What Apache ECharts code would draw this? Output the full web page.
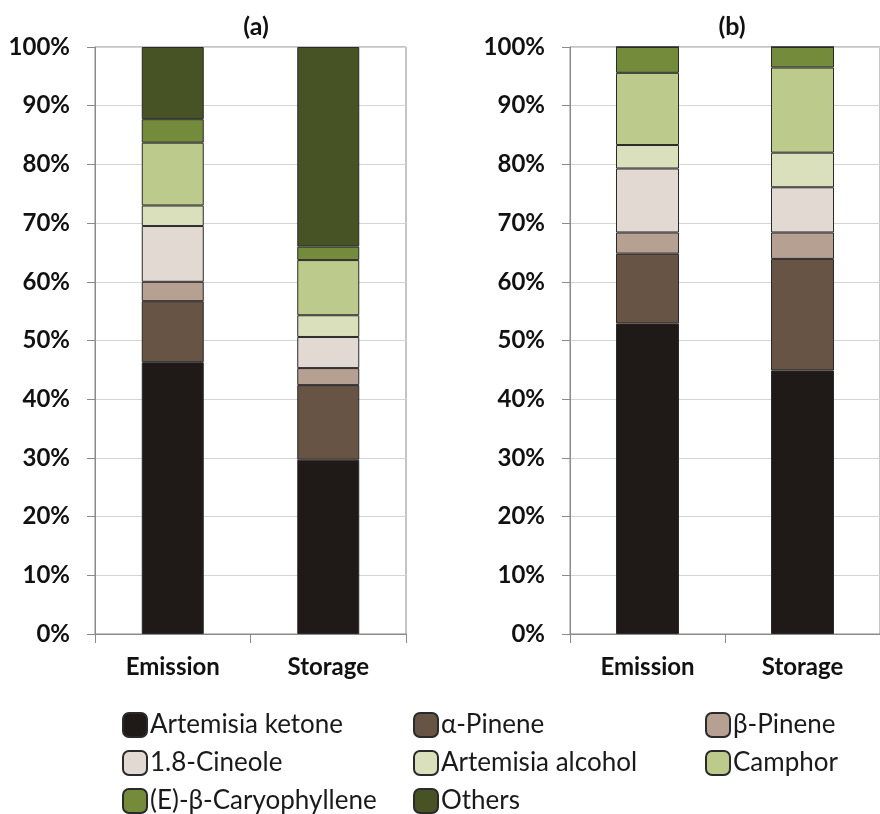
<!DOCTYPE html>
<html>
<head>
<meta charset="utf-8">
<script src="https://cdn.jsdelivr.net/npm/echarts@6/dist/echarts.min.js"></script>
<style>html,body{margin:0;padding:0;background:#fff}#c{width:880px;height:814px}</style>
</head>
<body>
<div id="c"></div>
<script>
const categories = ['Emission', 'Storage'];
const compounds = ['Artemisia ketone', 'α-Pinene', 'β-Pinene', '1.8-Cineole', 'Artemisia alcohol', 'Camphor', '(E)-β-Caryophyllene', 'Others'];
const colors = ['#1f1a17', '#675445', '#b6a091', '#e2d9d3', '#dbe0bc', '#bccb8b', '#748b3b', '#475324'];
// panel (a)
const aEmission = [46.3, 10.4, 3.3, 9.5, 3.5, 10.7, 4.0, 12.3];
const aStorage  = [29.7, 12.7, 2.9, 5.3, 3.7, 9.4, 2.3, 34.0];
// panel (b)
const bEmission = [52.9, 11.9, 3.6, 10.9, 4.0, 12.3, 4.4, 0];
const bStorage  = [44.9, 19.0, 4.5, 7.7, 5.9, 14.5, 3.5, 0];
const panelTitles = ['(a)', '(b)'];
const yTicks = [0, 10, 20, 30, 40, 50, 60, 70, 80, 90, 100];

const FONT = 'Lato, Carlito, "Open Sans", sans-serif';
const panels = [[aEmission, aStorage], [bEmission, bStorage]];

const grids = [
  {left: 95, top: 47, width: 311, height: 587, show: true, borderColor: '#8a8a8a', borderWidth: 1},
  {left: 570, top: 47, width: 320, height: 587, show: true, borderColor: '#8a8a8a', borderWidth: 1}
];
const xAxes = grids.map((g, i) => ({
  type: 'category', gridIndex: i, data: categories,
  axisLine: {lineStyle: {color: '#8a8a8a', width: 1}},
  axisTick: {show: true, length: 9, lineStyle: {color: '#8a8a8a'}},
  axisLabel: {fontFamily: FONT, fontWeight: 'bold', fontSize: 24, color: '#111', margin: 21}
}));
const yAxes = grids.map((g, i) => ({
  type: 'value', gridIndex: i, min: yTicks[0], max: yTicks[yTicks.length - 1], interval: yTicks[1] - yTicks[0],
  axisLine: {show: true, lineStyle: {color: '#8a8a8a', width: 1}},
  axisTick: {show: true, length: 8, lineStyle: {color: '#8a8a8a'}},
  splitLine: {show: true, lineStyle: {color: '#d4d4d4', width: 1}},
  axisLabel: {fontFamily: FONT, fontWeight: 'bold', fontSize: 24, color: '#111', margin: 25, formatter: '{value}%'}
}));

const series = [];
panels.forEach((p, pi) => {
  compounds.forEach((name, ci) => {
    series.push({
      type: 'bar', name: name, stack: 'p' + pi,
      xAxisIndex: pi, yAxisIndex: pi,
      barWidth: pi === 0 ? 62 : 63,
      itemStyle: {color: colors[ci], borderColor: '#2a2a2a', borderWidth: 1},
      data: [p[0][ci], p[1][ci]]
    });
  });
});

const legendCols = [122, 413, 705];
const legendRows = [712, 750, 788];
const legends = compounds.map((name, i) => ({
  data: [name],
  left: legendCols[i % 3], top: legendRows[Math.floor(i / 3)],
  padding: 0,
  icon: 'roundRect', itemWidth: 24, itemHeight: 24,
  selectedMode: false,
  textStyle: {fontFamily: FONT, fontSize: 26, color: '#1a1a1a', padding: [0, 0, 0, -2]}
}));

const titles = panelTitles.map((t, i) => ({
  text: t, left: i === 0 ? 251 : 727, top: 9, textAlign: 'center',
  textStyle: {fontFamily: FONT, fontWeight: 'bold', fontSize: 25, color: '#111'}
}));

const chart = echarts.init(document.getElementById('c'));
chart.setOption({
  animation: false,
  backgroundColor: '#fff',
  title: titles,
  legend: legends,
  grid: grids,
  xAxis: xAxes,
  yAxis: yAxes,
  series: series
});
</script>
</body>
</html>
